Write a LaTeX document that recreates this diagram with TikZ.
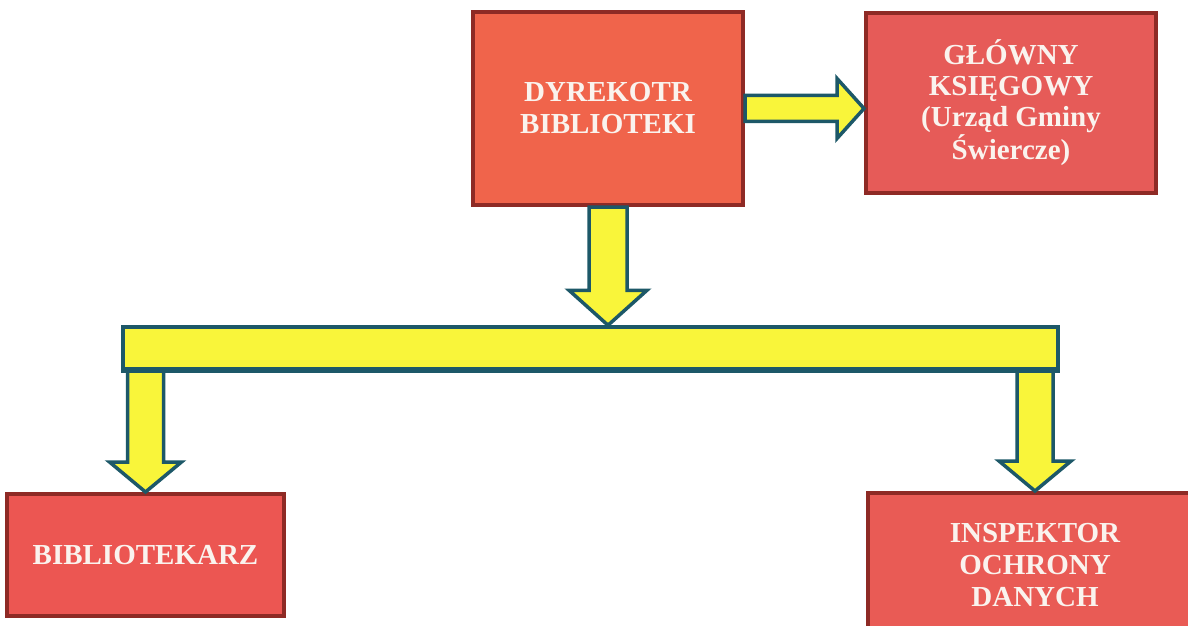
\documentclass[tikz,border=0pt]{standalone}
\usepackage{fontspec}
\usetikzlibrary{calc}
\newfontfamily\boxfont{Liberation Serif}
\definecolor{boxedge}{HTML}{8E2A25}
\definecolor{boxtext}{HTML}{FAF3EE}
\definecolor{dyrfill}{HTML}{F0644B}
\definecolor{glfill}{HTML}{E65B58}
\definecolor{bibfill}{HTML}{EC5652}
\definecolor{inspfill}{HTML}{E95B55}
\definecolor{arrowfill}{HTML}{F9F53A}
\definecolor{arrowedge}{HTML}{1D5868}
\tikzset{
  unitbox/.style={draw=boxedge, line width=2pt, fill=#1, text=boxtext, align=center,
    inner sep=0pt, font=\boxfont\bfseries\fontsize{14.5}{16}\selectfont},
  blockarrow/.style={draw=arrowedge, fill=arrowfill, line width=1.75pt, line join=miter},
}
\newcommand\blockdown[5]{\draw[blockarrow] ($(#1)+(-#3,0)$) -- ($(#2)+(-#3,-#5)$) -- ($(#2)+(-#4,-#5)$) -- (#2) -- ($(#2)+(#4,-#5)$) -- ($(#2)+(#3,-#5)$) -- ($(#1)+(#3,0)$) -- cycle;}
\newcommand\blockright[5]{\draw[blockarrow] ($(#1)+(0,-#3)$) -- ($(#2)+(-#5,-#3)$) -- ($(#2)+(-#5,-#4)$) -- (#2) -- ($(#2)+(-#5,#4)$) -- ($(#2)+(-#5,#3)$) -- ($(#1)+(0,#3)$) -- cycle;}
\begin{document}
\begin{tikzpicture}[x=0.5pt, y=-0.5pt]
\useasboundingbox (0,0) rectangle (1188,626);
\clip (0,0) rectangle (1188,626);
\fill[white] (0,0) rectangle (1188,626);
\node[unitbox=dyrfill, minimum width=135pt, minimum height=96.5pt] (dyr) at (608,108.5) {DYREKOTR\\BIBLIOTEKI};
\node[unitbox=glfill, minimum width=145pt, minimum height=90pt, font=\boxfont\bfseries\fontsize{14.5}{15.5}\selectfont] (glowny) at (1011,103) {GŁÓWNY\\KSIĘGOWY\\(Urząd Gminy\\Świercze)};
\node[unitbox=bibfill, minimum width=138.5pt, minimum height=61pt] (bibl) at (145.5,555) {BIBLIOTEKARZ};
\node[unitbox=inspfill, minimum width=167pt, minimum height=72pt] (insp) at (1035,565) {INSPEKTOR\\OCHRONY\\DANYCH};
\node[draw=arrowedge, fill=arrowfill, line width=1.75pt, minimum width=467.5pt, minimum height=21pt, inner sep=0pt] (bar) at (590.5,348) {};
\coordinate (dyrtip) at (dyr.south |- bar.north);
\coordinate (biblroot) at (bibl.north |- bar.south);
\coordinate (insproot) at (insp.north |- bar.south);
\coordinate (gltip) at (glowny.west |- dyr.east);
\blockright{dyr.east}{gltip}{13}{30}{27}
\blockdown{dyr.south}{dyrtip}{19}{39}{35}
\blockdown{biblroot}{bibl.north}{18}{36}{30}
\blockdown{insproot}{insp.north}{18}{36}{30}
\draw[arrowedge, line width=1.75pt] (bar.south west) -- (bar.south east);
\end{tikzpicture}
\end{document}
